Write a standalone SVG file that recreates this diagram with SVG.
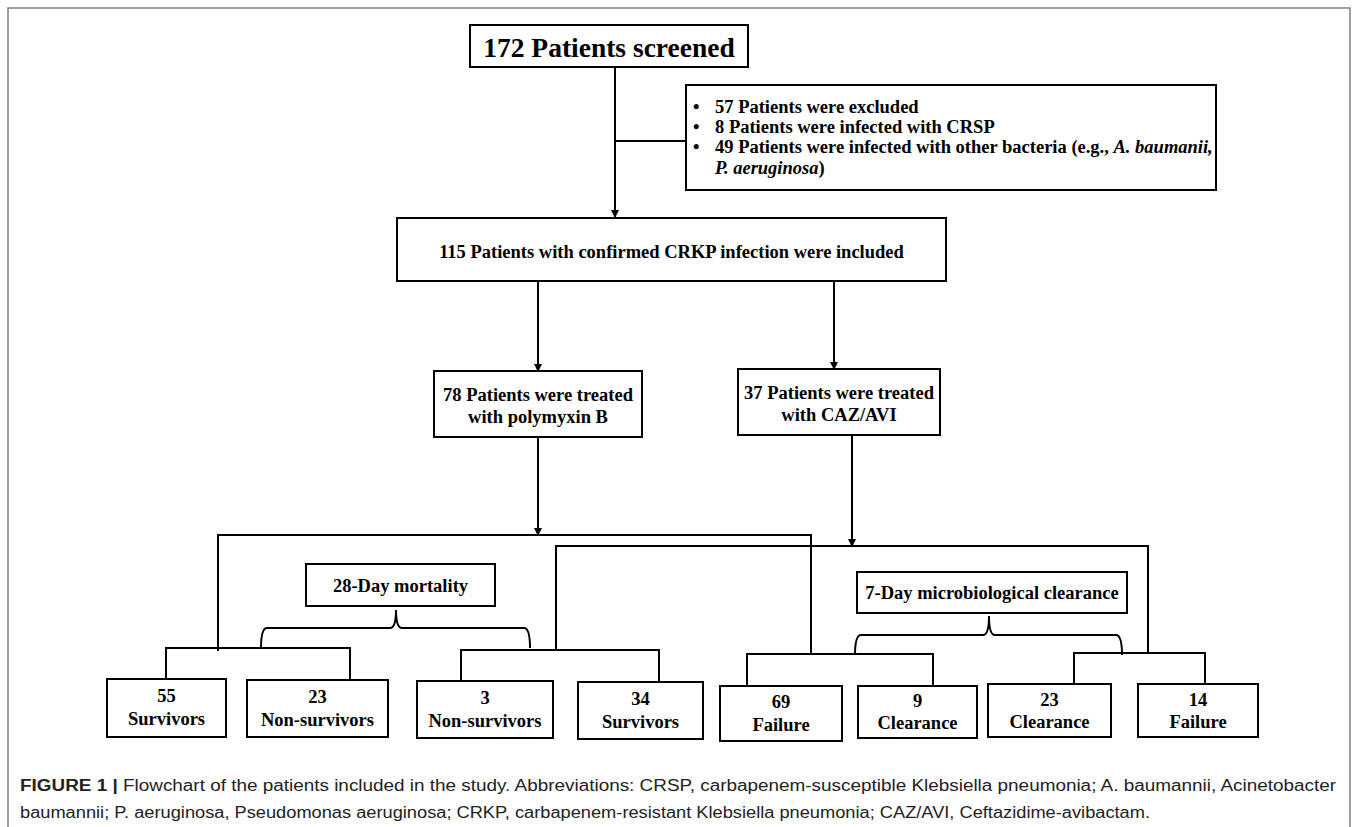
<svg xmlns="http://www.w3.org/2000/svg" width="1355" height="827" viewBox="0 0 1355 827">
<style>
.box{fill:#fff;stroke:#000;stroke-width:2}
.t{font-family:"Liberation Serif","Times New Roman",serif;font-weight:bold;font-size:18.5px;fill:#000;text-anchor:middle}
.tl{font-family:"Liberation Serif","Times New Roman",serif;font-weight:bold;font-size:18.5px;fill:#000}
.big{font-family:"Liberation Serif","Times New Roman",serif;font-weight:bold;font-size:27.5px;fill:#000;text-anchor:middle}
.it{font-style:italic}
.conn{stroke:#000;stroke-width:2;fill:none}
.cap{font-family:"Liberation Sans",Arial,sans-serif;font-size:16px;fill:#222}
</style>
<defs>
<marker id="ah" markerUnits="userSpaceOnUse" markerWidth="8" markerHeight="8" refX="7" refY="4" orient="auto">
<path d="M0,0 L8,4 L0,8 z" fill="#000"/>
</marker>
</defs>
<rect width="1355" height="827" fill="#fff"/>
<path d="M8 840 V8 H1350 V840" fill="none" stroke="#808080" stroke-width="1.5"/>

<g id="connectors">
<path class="conn" d="M615 67 V217" marker-end="url(#ah)"/>
<path class="conn" d="M615 141 H686"/>
<path class="conn" d="M538 281 V371" marker-end="url(#ah)"/>
<path class="conn" d="M834 281 V369" marker-end="url(#ah)"/>
<path class="conn" d="M538 437 V535" marker-end="url(#ah)"/>
<path class="conn" d="M218 651 V535 H811 V654"/>
<path class="conn" d="M852 435 V546" marker-end="url(#ah)"/>
<path class="conn" d="M556 650 V546 H1148 V653"/>
<path class="conn" d="M166 679 V648 H350 V680"/>
<path class="conn" d="M461 681 V650 H659 V682"/>
<path class="conn" d="M747 686 V654 H933 V686"/>
<path class="conn" d="M1074 684 V653 H1205 V684"/>
<path class="conn" d="M261 648 Q261 628 267 628 H390 Q396 628 396 610 Q396 628 402 628 H524 Q530 628 530 648"/>
<path class="conn" d="M855 655 Q855 635 861 635 H983 Q989 635 989 616 Q989 635 995 635 H1116 Q1122 635 1122 655"/>
</g>

<g id="n-screened">
<rect class="box" x="470" y="25" width="278" height="42"/>
<text class="big" x="609" y="57">172 Patients screened</text>
</g>

<g id="n-excluded">
<rect class="box" x="686" y="85" width="530" height="105"/>
<text class="tl" x="693" y="113">•</text>
<text class="tl" x="715" y="113">57 Patients were excluded</text>
<text class="tl" x="693" y="133">•</text>
<text class="tl" x="715" y="133">8 Patients were infected with CRSP</text>
<text class="tl" x="693" y="153">•</text>
<text class="tl" x="715" y="153">49 Patients were infected with other bacteria (e.g., <tspan class="it">A. baumanii,</tspan></text>
<text class="tl" x="715" y="174"><tspan class="it">P. aeruginosa</tspan>)</text>
</g>

<g id="n-included">
<rect class="box" x="397" y="218" width="549" height="63"/>
<text class="t" x="671.5" y="258">115 Patients with confirmed CRKP infection were included</text>
</g>

<g id="n-polymyxin">
<rect class="box" x="434" y="371" width="208" height="66"/>
<text class="t" x="538" y="401">78 Patients were treated</text>
<text class="t" x="538" y="423">with polymyxin B</text>
</g>

<g id="n-cazavi">
<rect class="box" x="738" y="369" width="202" height="66"/>
<text class="t" x="839" y="399">37 Patients were treated</text>
<text class="t" x="839" y="421">with CAZ/AVI</text>
</g>

<g id="n-mortality">
<rect class="box" x="306" y="564" width="189" height="42"/>
<text class="t" x="400.5" y="592">28-Day mortality</text>
</g>

<g id="n-clearance">
<rect class="box" x="857" y="572" width="270" height="41"/>
<text class="t" x="992" y="599">7-Day microbiological clearance</text>
</g>

<g id="n-55">
<rect class="box" x="107" y="679" width="119" height="58"/>
<text class="t" x="166.5" y="702">55</text>
<text class="t" x="166.5" y="725">Survivors</text>
</g>
<g id="n-23ns">
<rect class="box" x="247" y="680" width="141" height="57"/>
<text class="t" x="317.5" y="703">23</text>
<text class="t" x="317.5" y="726">Non-survivors</text>
</g>
<g id="n-3">
<rect class="box" x="417" y="681" width="136" height="57"/>
<text class="t" x="485" y="704">3</text>
<text class="t" x="485" y="727">Non-survivors</text>
</g>
<g id="n-34">
<rect class="box" x="578" y="682" width="125" height="57"/>
<text class="t" x="640.5" y="705">34</text>
<text class="t" x="640.5" y="728">Survivors</text>
</g>
<g id="n-69">
<rect class="box" x="720" y="686" width="122" height="55"/>
<text class="t" x="781" y="708">69</text>
<text class="t" x="781" y="731">Failure</text>
</g>
<g id="n-9">
<rect class="box" x="858" y="686" width="119" height="52"/>
<text class="t" x="917.5" y="707">9</text>
<text class="t" x="917.5" y="729">Clearance</text>
</g>
<g id="n-23c">
<rect class="box" x="988" y="684" width="123" height="53"/>
<text class="t" x="1049.5" y="706">23</text>
<text class="t" x="1049.5" y="728">Clearance</text>
</g>
<g id="n-14">
<rect class="box" x="1138" y="684" width="120" height="53"/>
<text class="t" x="1198" y="706">14</text>
<text class="t" x="1198" y="728">Failure</text>
</g>

<g id="caption">
<text class="cap" x="20" y="791" textLength="1316" lengthAdjust="spacingAndGlyphs"><tspan font-weight="bold">FIGURE 1 |</tspan> Flowchart of the patients included in the study. Abbreviations: CRSP, carbapenem-susceptible Klebsiella pneumonia; A. baumannii, Acinetobacter</text>
<text class="cap" x="20" y="818" textLength="1130" lengthAdjust="spacingAndGlyphs">baumannii; P. aeruginosa, Pseudomonas aeruginosa; CRKP, carbapenem-resistant Klebsiella pneumonia; CAZ/AVI, Ceftazidime-avibactam.</text>
</g>
</svg>
